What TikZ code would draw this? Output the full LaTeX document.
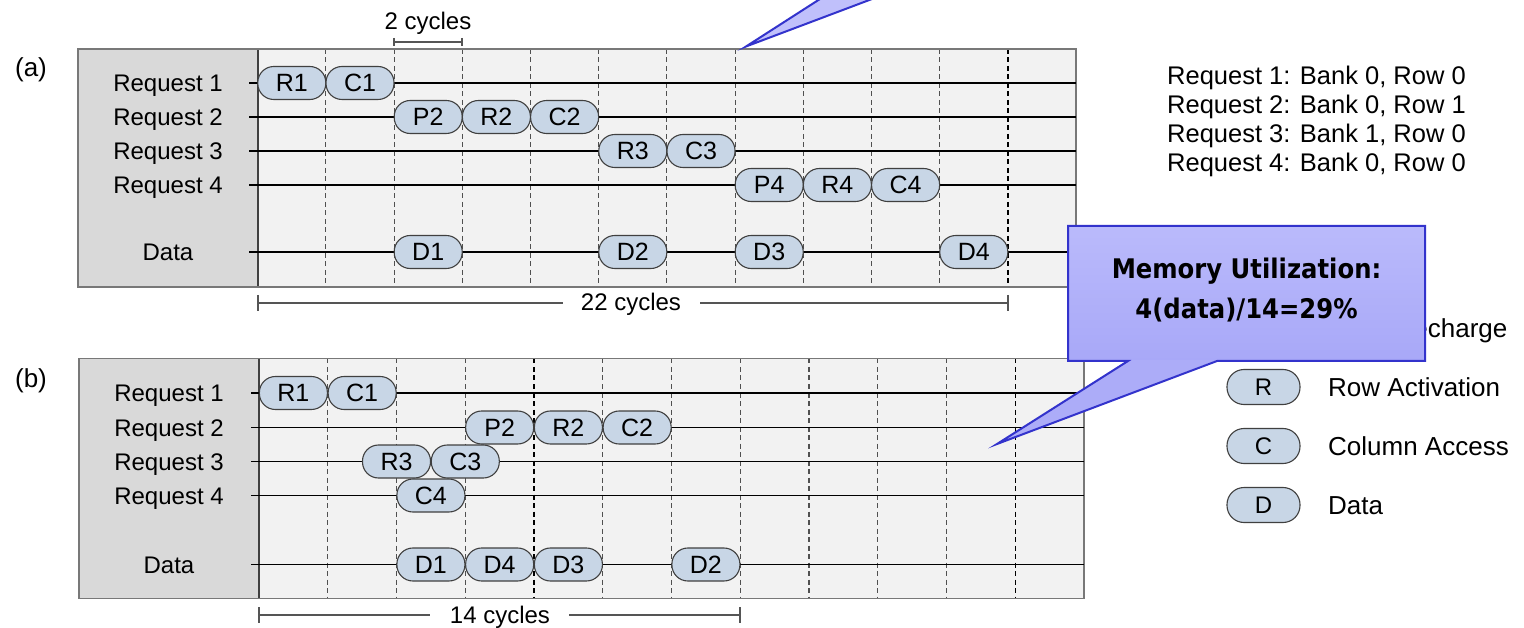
\documentclass[tikz,border=0pt]{standalone}
\usepackage{fontspec}
\setmainfont{Liberation Sans}
\newfontfamily\callfont[FakeStretch=0.9]{DejaVu Sans}
\definecolor{pillfill}{RGB}{200,214,230}
\definecolor{pillline}{RGB}{64,64,64}
\definecolor{lblbg}{RGB}{217,217,217}
\definecolor{panelbg}{RGB}{242,242,242}
\definecolor{gridgray}{RGB}{80,80,80}
\definecolor{framegray}{RGB}{120,120,120}
\definecolor{brkgray}{RGB}{85,85,85}
\definecolor{cTop}{RGB}{186,186,251}
\definecolor{cMid}{RGB}{146,146,245}
\definecolor{cBot}{RGB}{168,168,248}
\definecolor{tailfill}{RGB}{172,172,248}
\definecolor{tailtop}{RGB}{192,192,251}
\definecolor{cline}{RGB}{51,51,204}
\begin{document}
\begin{tikzpicture}[x=1pt,y=-1pt,
  pill/.style={draw=pillline, fill=pillfill, line width=1.1pt, rounded corners=16pt,
    minimum width=68pt, minimum height=33pt, inner sep=0pt, font=\fontsize{25}{26}\selectfont},
  lpill/.style={pill, minimum width=73pt, minimum height=35pt, rounded corners=17pt, font=\fontsize{24}{26}\selectfont},
  rowlbl/.style={anchor=base, font=\fontsize{24}{26}\selectfont, inner sep=0pt},
  legtxt/.style={anchor=base west, font=\fontsize{25.5}{28}\selectfont, inner sep=0pt},
  itemtxt/.style={anchor=base west, font=\fontsize{26}{28}\selectfont, inner sep=0pt},
  cyctxt/.style={anchor=base, font=\fontsize{24}{26}\selectfont, inner sep=0pt},
  tline/.style={line width=1.2pt, draw=black},
  gridln/.style={dash pattern=on 5pt off 3.5pt, line width=1.1pt, draw=gridgray},
  griddk/.style={dash pattern=on 5pt off 3.5pt, line width=1.3pt, draw=black},
  sepln/.style={line width=1.2pt, draw=pillline},
  frame/.style={draw=framegray, line width=1.6pt},
  brk/.style={draw=brkgray, line width=1.5pt},
  calloutline/.style={draw=cline, line width=2pt, line join=miter}]
\useasboundingbox (0,0) rectangle (1524,628);
\fill[white] (0,0) rectangle (1524,628);

% ---------------- panel (a)
\fill[panelbg] (258,49) rectangle (1076,287);
\fill[lblbg] (78,49) rectangle (258,287);
\foreach \k in {1,...,10} \draw[gridln] ({257.7+\k*68.2},49) -- ({257.7+\k*68.2},287);
\draw[griddk] (1007.9,49) -- (1007.9,287);
\draw[sepln] (258,49) -- (258,287);
\draw[frame] (78,49) rectangle (1076,287);
\foreach \y [count=\i] in {83,117,151,185,252} {
  \coordinate (as\i) at (249,\y);
  \coordinate (ae\i) at (1076,\y);
  \draw[tline] (as\i) -- (ae\i);
}
\node (la) [anchor=base, font=\fontsize{26}{28}\selectfont, inner sep=0pt] at (31,76.5) {(a)};
\node (a-l1) [rowlbl] at (168,91.6) {Request 1};
\node (a-l2) [rowlbl] at (168,125.6) {Request 2};
\node (a-l3) [rowlbl] at (168,159.6) {Request 3};
\node (a-l4) [rowlbl] at (168,193.6) {Request 4};
\node (a-l5) [rowlbl] at (168,260.6) {Data};

\node (a-R1) [pill] at (291.8,83) {R1};
\node (a-C1) [pill] at (360,83) {C1};
\node (a-P2) [pill] at (428.2,117) {P2};
\node (a-R2) [pill] at (496.4,117) {R2};
\node (a-C2) [pill] at (564.6,117) {C2};
\node (a-R3) [pill] at (632.8,151) {R3};
\node (a-C3) [pill] at (701,151) {C3};
\node (a-P4) [pill] at (769.2,185) {P4};
\node (a-R4) [pill] at (837.4,185) {R4};
\node (a-C4) [pill] at (905.6,185) {C4};
\node (a-D1) [pill] at (428.2,252) {D1};
\node (a-D2) [pill] at (632.8,252) {D2};
\node (a-D3) [pill] at (769.2,252) {D3};
\node (a-D4) [pill] at (973.8,252) {D4};

% 2 cycles
\node (two) [cyctxt] at (428,29.3) {2 cycles};
\coordinate (tw1) at (394,42); \coordinate (tw2) at (462,42);
\draw[brk] (tw1) -- (tw2);
\draw[brk] ([yshift=4pt]tw1) -- ([yshift=-4pt]tw1);
\draw[brk] ([yshift=4pt]tw2) -- ([yshift=-4pt]tw2);

% 22 cycles
\node (t22) [cyctxt] at (631,310.6) {22 cycles};
\coordinate (b22a) at (258,303); \coordinate (b22b) at (1008,303);
\coordinate (g22a) at (563,303); \coordinate (g22b) at (700,303);
\draw[brk] (b22a) -- (g22a);
\draw[brk] (g22b) -- (b22b);
\draw[brk] ([yshift=8pt]b22a) -- ([yshift=-8pt]b22a);
\draw[brk] ([yshift=8pt]b22b) -- ([yshift=-8pt]b22b);

% ---------------- panel (b)
\fill[panelbg] (259,358.5) rectangle (1084,598.5);
\fill[lblbg] (79,358.5) rectangle (259,598.5);
\foreach \k in {1,2,3,5,6,7,8,9,10} \draw[gridln] ({259+\k*68.75},358.5) -- ({259+\k*68.75},598.5);
\draw[griddk] (534,358.5) -- (534,598.5);
\draw[griddk] (1015.25,358.5) -- (1015.25,598.5);
\draw[sepln] (259,358.5) -- (259,598.5);
\draw[frame] (79,358.5) rectangle (1084,598.5);
\foreach \y [count=\i] in {393,427.5,461.5,495.5,564.5} {
  \coordinate (bs\i) at (251,\y);
  \coordinate (be\i) at (1084,\y);
  \draw[tline] (bs\i) -- (be\i);
}
\node (lb) [anchor=base, font=\fontsize{26}{28}\selectfont, inner sep=0pt] at (31,387.5) {(b)};
\node (b-l1) [rowlbl] at (169,401.6) {Request 1};
\node (b-l2) [rowlbl] at (169,436.1) {Request 2};
\node (b-l3) [rowlbl] at (169,470.1) {Request 3};
\node (b-l4) [rowlbl] at (169,504.1) {Request 4};
\node (b-l5) [rowlbl] at (169,573.1) {Data};

\node (b-R1) [pill] at (293.4,393) {R1};
\node (b-C1) [pill] at (362.15,393) {C1};
\node (b-P2) [pill] at (499.65,427.5) {P2};
\node (b-R2) [pill] at (568.4,427.5) {R2};
\node (b-C2) [pill] at (637.15,427.5) {C2};
\node (b-R3) [pill] at (396.5,461.5) {R3};
\node (b-C3) [pill] at (465.3,461.5) {C3};
\node (b-C4) [pill] at (430.9,495.5) {C4};
\node (b-D1) [pill] at (430.9,564.5) {D1};
\node (b-D4) [pill] at (499.65,564.5) {D4};
\node (b-D3) [pill] at (568.4,564.5) {D3};
\node (b-D2) [pill] at (705.9,564.5) {D2};

% 14 cycles
\node (t14) [cyctxt] at (500,623.6) {14 cycles};
\coordinate (b14a) at (259,615); \coordinate (b14b) at (740,615);
\coordinate (g14a) at (430,615); \coordinate (g14b) at (569,615);
\draw[brk] (b14a) -- (g14a);
\draw[brk] (g14b) -- (b14b);
\draw[brk] ([yshift=8pt]b14a) -- ([yshift=-8pt]b14a);
\draw[brk] ([yshift=8pt]b14b) -- ([yshift=-8pt]b14b);

% ---------------- legend
\node (q1) [legtxt] at (1167,84.5) {Request 1: Bank 0, Row 0};
\node (q2) [legtxt] at (1167,113.5) {Request 2: Bank 0, Row 1};
\node (q3) [legtxt] at (1167,142.5) {Request 3: Bank 1, Row 0};
\node (q4) [legtxt] at (1167,171.5) {Request 4: Bank 0, Row 0};

\node (kR) [lpill] at (1263.5,387) {R};
\node (kC) [lpill] at (1263.5,446) {C};
\node (kD) [lpill] at (1263.5,505) {D};
\node (tP) [itemtxt] at (1328,337.3) {Row Precharge};
\node (tR) [itemtxt] at (1328,396.3) {Row Activation};
\node (tC) [itemtxt] at (1328,455.3) {Column Access};
\node (tD) [itemtxt] at (1328,514.3) {Data};

% ---------------- callouts
\fill[tailtop] (746,46.5) -- (820,-1) -- (872,-1) -- cycle;
\draw[calloutline] (820,-1) -- (746,46.5) -- (872,-1);

\shade[top color=cTop, middle color=cMid, bottom color=cBot] (1068,226) rectangle (1425,361);
\fill[tailfill] (1128,360) -- (997,444) -- (1217,360) -- cycle;
\draw[calloutline] (1068,226) -- (1425,226) -- (1425,361) -- (1217,361) -- (997,444) -- (1128,361) -- (1068,361) -- cycle;
\node (util1) [anchor=base, inner sep=0pt, font=\callfont\bfseries\fontsize{27}{30}\selectfont] at (1246.5,278.3) {Memory Utilization:};
\node (util2) [anchor=base, inner sep=0pt, font=\callfont\bfseries\fontsize{27}{30}\selectfont] at (1246.5,318.3) {4(data)/14=29\%};
\end{tikzpicture}
\end{document}
